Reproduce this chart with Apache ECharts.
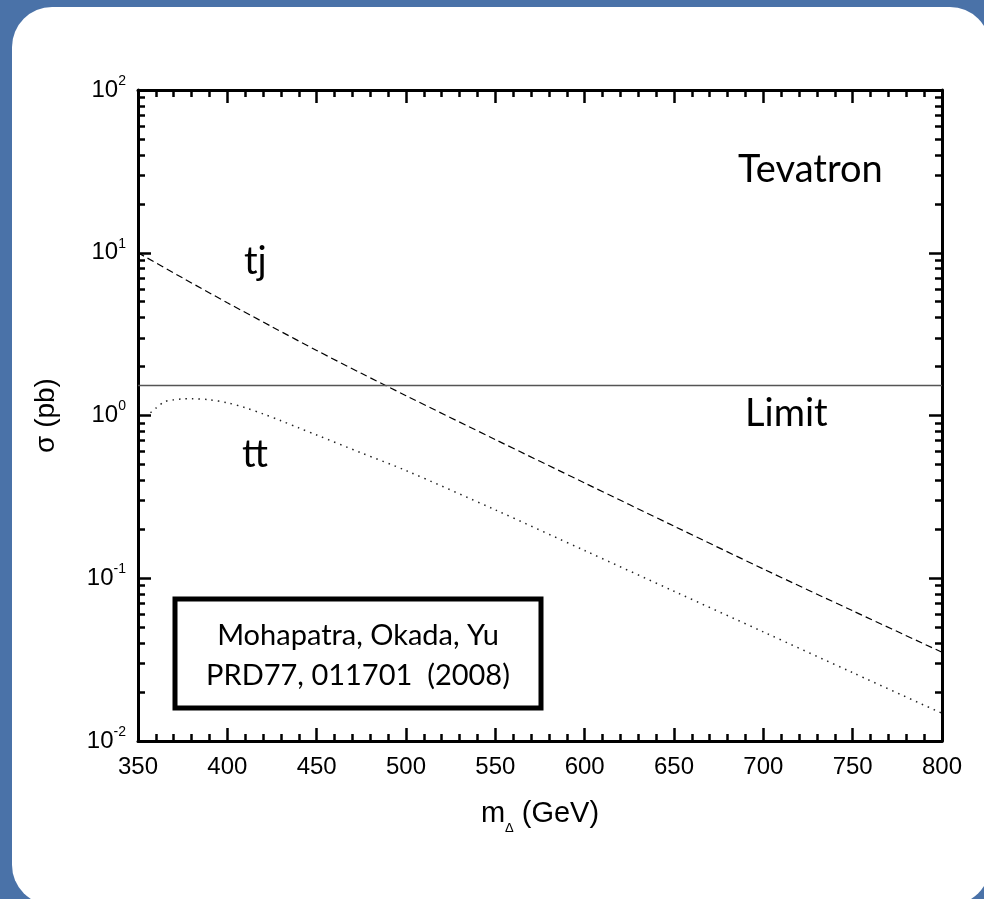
<!DOCTYPE html>
<html>
<head>
<meta charset="utf-8">
<script src="https://cdn.jsdelivr.net/npm/echarts@6/dist/echarts.min.js"></script>
<style>
  html, body { margin: 0; padding: 0; background: #4a72a8; }
  #chart { width: 984px; height: 899px; }
</style>
</head>
<body>
<div id="chart"></div>
<script>
// cross sections (pb)
var tjMass = [350, 375, 400, 425, 450, 475, 500, 550, 600, 650, 700, 750, 800];
var tjSigma = [10.0, 7.0, 4.93, 3.51, 2.51, 1.816, 1.324, 0.711, 0.385, 0.209, 0.114, 0.0631, 0.0351];

var ttMass = [357, 360, 365, 370, 375, 380, 390, 400, 410, 420, 430, 440, 450, 475, 500, 550, 600, 650, 700, 750, 800];
var ttSigma = [1.04, 1.11, 1.216, 1.25, 1.265, 1.268, 1.25, 1.197, 1.117, 1.023, 0.929, 0.839, 0.759, 0.589, 0.459, 0.263, 0.148, 0.0832, 0.0468, 0.0263, 0.0148];

var limitMass = [350, 800];
var limitSigma = [1.53, 1.53];

var yMinorTicks = [];
[0.01, 0.1, 1, 10].forEach(function (d) {
  for (var k = 2; k <= 9; k++) {
    yMinorTicks.push(+(k * d).toPrecision(3));
  }
});

var zip = function (xs, ys) {
  return xs.map(function (x, i) { return [x, ys[i]]; });
};

var labelFont = '"Liberation Sans", Arial, sans-serif';
var textFont = 'Lato, "Open Sans", sans-serif';

var powLabel = function (v) {
  var e = Math.round(Math.log(v) / Math.LN10);
  return '{b|10}{s|' + e + '}';
};

var xAxisBase = function (pos) {
  return {
    type: 'value',
    position: pos,
    min: 350,
    max: 800,
    interval: 50,
    splitLine: { show: false },
    axisLine: { show: true, onZero: false, lineStyle: { color: '#000', width: 3 } },
    axisTick: { show: true, inside: true, length: 13, lineStyle: { color: '#000', width: 2.5 } },
    minorTick: { show: true, splitNumber: 5, length: 7, lineStyle: { color: '#000', width: 2.5 } },
    minorSplitLine: { show: false },
    axisLabel: { show: false }
  };
};

var yAxisBase = function (pos, minor) {
  return {
    type: 'log',
    logBase: 10,
    position: pos,
    min: 0.01,
    max: 100,
    splitLine: { show: false },
    axisLine: { show: !minor, onZero: false, lineStyle: { color: '#000', width: 3 } },
    axisTick: minor
      ? { show: true, inside: true, length: 7, customValues: yMinorTicks, lineStyle: { color: '#000', width: 2.5 } }
      : { show: true, inside: true, length: 13, lineStyle: { color: '#000', width: 2.5 } },
    axisLabel: { show: false }
  };
};

var xBottom = xAxisBase('bottom');
xBottom.axisLabel = { show: true, margin: 14, color: '#000', fontSize: 24, fontFamily: labelFont };
xBottom.name = '{m|m}{d|Δ}{g| (GeV)}';
xBottom.nameLocation = 'middle';
xBottom.nameGap = 58;
xBottom.nameTextStyle = {
  color: '#000',
  rich: {
    m: { fontSize: 29, fontFamily: labelFont, color: '#000', lineHeight: 30 },
    d: { fontSize: 13, fontFamily: labelFont, color: '#000', verticalAlign: 'bottom', lineHeight: 13, padding: [0, 0, -6, 0] },
    g: { fontSize: 29, fontFamily: labelFont, color: '#000', lineHeight: 30 }
  }
};

var yLeft = yAxisBase('left', false);
yLeft.axisLabel = {
  show: true,
  margin: 12,
  formatter: powLabel,
  rich: {
    b: { fontSize: 24, fontFamily: labelFont, color: '#000', lineHeight: 32 },
    s: { fontSize: 14, fontFamily: labelFont, color: '#000', lineHeight: 14, verticalAlign: 'top' }
  }
};
yLeft.name = 'σ (pb)';
yLeft.nameLocation = 'middle';
yLeft.nameGap = 78;
yLeft.nameTextStyle = { color: '#000', fontSize: 28, fontFamily: labelFont };

var option = {
  backgroundColor: '#4a72a8',
  animation: false,
  grid: { left: 138, right: 42, top: 90, bottom: 158, containLabel: false },
  xAxis: [xBottom, xAxisBase('top')],
  yAxis: [yLeft, yAxisBase('left', true), yAxisBase('right', false), yAxisBase('right', true)],
  graphic: [
    {
      type: 'rect',
      z: -100,
      silent: true,
      shape: { x: 12, y: 7, width: 978, height: 898, r: 40 },
      style: { fill: '#fff' }
    },
    {
      type: 'rect',
      z: 10,
      shape: { x: 175, y: 599, width: 366, height: 109 },
      style: { fill: 'none', stroke: '#000', lineWidth: 5 }
    },
    {
      type: 'text',
      z: 10,
      x: 358, y: 636,
      style: { text: 'Mohapatra, Okada, Yu', font: '29px ' + textFont, fill: '#000', align: 'center', verticalAlign: 'middle' }
    },
    {
      type: 'text',
      z: 10,
      x: 358, y: 676,
      style: { text: 'PRD77, 011701  (2008)', font: '29px ' + textFont, fill: '#000', align: 'center', verticalAlign: 'middle' }
    },
    {
      type: 'text', z: 10, x: 738, y: 170,
      style: { text: 'Tevatron', font: '38px ' + textFont, fill: '#000', verticalAlign: 'middle' }
    },
    {
      type: 'text', z: 10, x: 244, y: 262,
      style: { text: 'tj', font: '38px ' + textFont, fill: '#000', verticalAlign: 'middle' }
    },
    {
      type: 'text', z: 10, x: 242, y: 455,
      style: { text: 'tt', font: '38px ' + textFont, fill: '#000', verticalAlign: 'middle' }
    },
    {
      type: 'text', z: 10, x: 745, y: 414,
      style: { text: 'Limit', font: '38px ' + textFont, fill: '#000', verticalAlign: 'middle' }
    }
  ],
  series: [
    {
      name: 'tj',
      type: 'line',
      xAxisIndex: 0,
      yAxisIndex: 0,
      data: zip(tjMass, tjSigma),
      smooth: 0.3,
      showSymbol: false,
      lineStyle: { color: '#000', width: 1.2, type: [7, 4] }
    },
    {
      name: 'tt',
      type: 'line',
      xAxisIndex: 0,
      yAxisIndex: 0,
      data: zip(ttMass, ttSigma),
      smooth: 0.3,
      showSymbol: false,
      lineStyle: { color: '#222', width: 1.5, type: [1.5, 5] }
    },
    {
      name: 'Limit',
      type: 'line',
      xAxisIndex: 0,
      yAxisIndex: 0,
      data: zip(limitMass, limitSigma),
      showSymbol: false,
      lineStyle: { color: '#555', width: 1.5 }
    }
  ]
};

var chart = echarts.init(document.getElementById('chart'));
chart.setOption(option);
</script>
</body>
</html>
